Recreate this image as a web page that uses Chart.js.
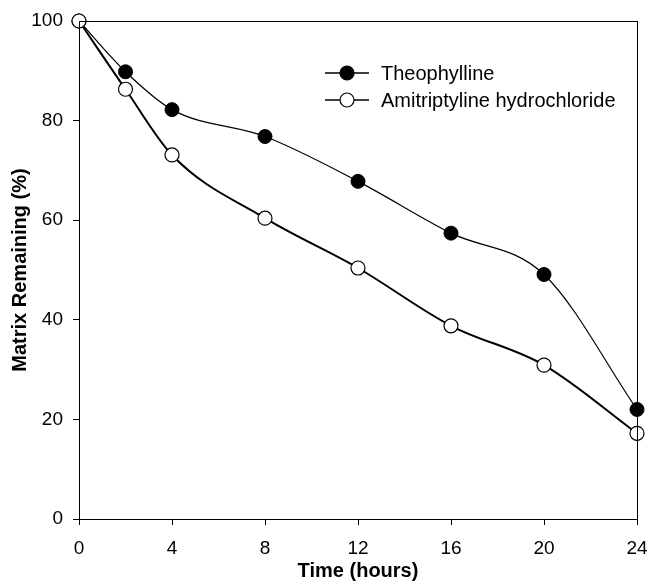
<!DOCTYPE html>
<html>
<head>
<meta charset="utf-8">
<script src="https://cdn.jsdelivr.net/npm/chart.js@4/dist/chart.umd.min.js"></script>
<style>
  html, body { margin: 0; padding: 0; background: #fff; }
  canvas { display: block; }
</style>
</head>
<body>
<canvas id="chart" width="652" height="586"></canvas>
<script>
// Matrix erosion over time
const hours = [0, 2, 4, 8, 12, 16, 20, 24];
const theophylline = [100, 89.8, 82.2, 76.8, 67.8, 57.4, 49.1, 22.0];
const amitriptyline = [100, 86.3, 73.1, 60.4, 50.4, 38.8, 30.9, 17.2];
const seriesNames = ['Theophylline', 'Amitriptyline hydrochloride'];

const FONT = '"Liberation Sans", Arial, Helvetica, sans-serif';

const toPoints = vals => hours.map((h, i) => ({ x: h, y: vals[i] }));

// box around the plot + inset legend
const framePlugin = {
  id: 'frame',
  afterDraw(chart) {
    const { ctx, chartArea: a } = chart;
    ctx.save();
    ctx.strokeStyle = '#000';
    ctx.lineWidth = 1;
    ctx.strokeRect(Math.round(a.left) + 0.5, Math.round(a.top) + 0.5,
      Math.round(a.right - a.left), Math.round(a.bottom - a.top));

    // legend rows
    const rows = [73, 100];
    chart.data.datasets.forEach((ds, i) => {
      const y = rows[i];
      ctx.beginPath();
      ctx.moveTo(325, y);
      ctx.lineTo(369, y);
      ctx.lineWidth = 1.5;
      ctx.strokeStyle = '#000';
      ctx.stroke();
      ctx.beginPath();
      ctx.arc(347, y, 7, 0, Math.PI * 2);
      ctx.fillStyle = ds.pointBackgroundColor;
      ctx.fill();
      ctx.lineWidth = 1.2;
      ctx.stroke();
      ctx.fillStyle = '#000';
      ctx.font = '20px ' + FONT;
      ctx.textBaseline = 'middle';
      ctx.textAlign = 'left';
      ctx.fillText(ds.label, 381, y + 1);
    });
    ctx.restore();
  }
};

new Chart(document.getElementById('chart'), {
  type: 'line',
  data: {
    datasets: [
      {
        label: seriesNames[0],
        data: toPoints(theophylline),
        borderColor: '#000',
        borderWidth: 1.2,
        pointBackgroundColor: '#000',
        pointBorderColor: '#000',
        pointBorderWidth: 1,
        pointRadius: 7,
        cubicInterpolationMode: 'monotone',
        clip: false,
        order: 1
      },
      {
        label: seriesNames[1],
        data: toPoints(amitriptyline),
        borderColor: '#000',
        borderWidth: 2,
        pointBackgroundColor: '#fff',
        pointBorderColor: '#000',
        pointBorderWidth: 1.2,
        pointRadius: 7,
        cubicInterpolationMode: 'monotone',
        clip: false,
        order: 0
      }
    ]
  },
  options: {
    responsive: false,
    animation: false,
    layout: { padding: { top: 21, right: 15, bottom: 0, left: 0 } },
    plugins: { legend: { display: false }, tooltip: { enabled: false } },
    scales: {
      x: {
        type: 'linear',
        min: 0,
        max: 24,
        afterFit: s => { s.height = 67; s.paddingLeft = 0; s.paddingRight = 0; },
        ticks: { stepSize: 4, color: '#000', padding: 12, font: { family: FONT, size: 19 } },
        grid: { drawOnChartArea: false, drawTicks: true, tickLength: 6, color: '#000' },
        border: { display: true, color: '#000', width: 1 },
        title: {
          display: true,
          text: 'Time (hours)',
          color: '#000',
          font: { family: FONT, size: 20, weight: 'bold' },
          padding: { top: 0, bottom: 3 }
        }
      },
      y: {
        min: 0,
        max: 100,
        afterFit: s => { s.width = 79; s.paddingTop = 0; s.paddingBottom = 0; },
        ticks: { stepSize: 20, color: '#000', padding: 10, font: { family: FONT, size: 19 } },
        grid: { drawOnChartArea: false, drawTicks: true, tickLength: 6, color: '#000' },
        border: { display: true, color: '#000', width: 1 },
        title: {
          display: true,
          text: 'Matrix Remaining (%)',
          color: '#000',
          font: { family: FONT, size: 20, weight: 'bold' },
          padding: { top: 8, bottom: 0 }
        }
      }
    }
  },
  plugins: [framePlugin]
});
</script>
</body>
</html>
